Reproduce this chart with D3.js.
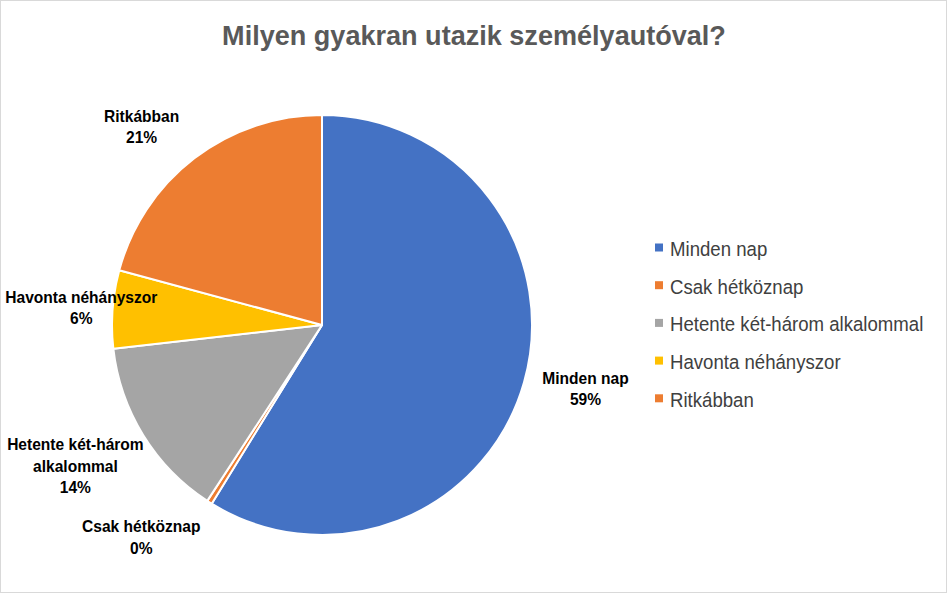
<!DOCTYPE html>
<html lang="hu">
<head>
	<meta charset="utf-8">
	<title>Milyen gyakran utazik személyautóval?</title>
	<script src="https://d3js.org/d3.v7.min.js"></script>
	<style>
		body { margin: 0; background: #fff; }
		text { font-family: "Liberation Sans Narrow", "Arial Narrow", "Liberation Sans", Arial, sans-serif; }
	</style>
</head>
<body>
	<script>

	// data
	var categories = ["Minden nap", "Csak hétköznap", "Hetente két-három alkalommal", "Havonta néhányszor", "Ritkábban"];
	var values = [58.8, 0.4, 14.0, 6.0, 20.8];
	var labelText = [["Minden nap"], ["Csak hétköznap"], ["Hetente két-három", "alkalommal"], ["Havonta néhányszor"], ["Ritkábban"]];
	var colors = ["#4472C4", "#ED7D31", "#A5A5A5", "#FFC000", "#ED7D31"];

	// label nudges away from the slice edge (Excel "best fit")
	var labelNudge = [[61.5, 12.4], [-68.2, 40.7], [-67.9, 36.3], [-31.3, 4.3], [-52.7, -25.7]];

	var width = 947,
		height = 593,
		radius = 210,
		cx = 322,
		cy = 325,
		narrow = 0.9; // squeeze to look like Arial Narrow

	var svg = d3.select("body")
		.append("svg")
		.attr("width", width)
		.attr("height", height);

	svg.append("rect")
		.attr("x", 0.5).attr("y", 0.5)
		.attr("width", width - 1).attr("height", height - 1)
		.attr("fill", "#fff")
		.attr("stroke", "#d9d9d9");

	svg.append("g")
		.attr("transform", "translate(474,44.5) scale(0.95,1)")
	  .append("text")
		.attr("text-anchor", "middle")
		.attr("font-size", 28.5)
		.attr("font-weight", "bold")
		.attr("fill", "#595959")
		.text("Milyen gyakran utazik személyautóval?");

	var pie = d3.pie().sort(null).value(function(d) { return d; });
	var arcs = pie(values);

	var arc = d3.arc().innerRadius(0).outerRadius(radius);
	var edge = d3.arc().innerRadius(radius).outerRadius(radius);

	var g = svg.append("g").attr("transform", "translate(" + cx + "," + cy + ")");

	g.selectAll("path")
		.data(arcs)
		.enter().append("path")
		.attr("d", arc)
		.attr("fill", function(d, i) { return colors[i]; })
		.attr("stroke", "#fff")
		.attr("stroke-width", 2)
		.attr("stroke-linejoin", "round");

	var lineH = 21.5;
	var labels = g.selectAll("g.lbl")
		.data(arcs)
		.enter().append("g")
		.attr("class", "lbl")
		.attr("transform", function(d, i) {
			var c = edge.centroid(d);
			return "translate(" + (c[0] + labelNudge[i][0]) + "," + (c[1] + labelNudge[i][1]) + ") scale(" + narrow + ",1)";
		})
	  .append("text")
		.attr("text-anchor", "middle")
		.attr("font-size", 17.3)
		.attr("font-weight", "bold")
		.attr("fill", "#000");

	labels.each(function(d, i) {
		var lines = labelText[i].concat([Math.round(values[i]) + "%"]);
		var t = d3.select(this);
		var y0 = -(lines.length - 1) * lineH / 2;
		lines.forEach(function(s, k) {
			t.append("tspan").attr("x", 0).attr("y", y0 + k * lineH).text(s);
		});
	});

	// legend
	var legend = svg.append("g").attr("transform", "translate(655,256)");
	var rowH = 37.7;
	var item = legend.selectAll("g")
		.data(categories)
		.enter().append("g")
		.attr("transform", function(d, i) { return "translate(0," + (i * rowH) + ")"; });

	item.append("rect")
		.attr("x", 0).attr("y", -12.5)
		.attr("width", 8).attr("height", 8)
		.attr("fill", function(d, i) { return colors[i]; });

	item.append("g")
		.attr("transform", "translate(15,0) scale(0.955,1)")
	  .append("text")
		.attr("font-size", 19.5)
		.attr("fill", "#404040")
		.text(function(d) { return d; });

	</script>
</body>
</html>
